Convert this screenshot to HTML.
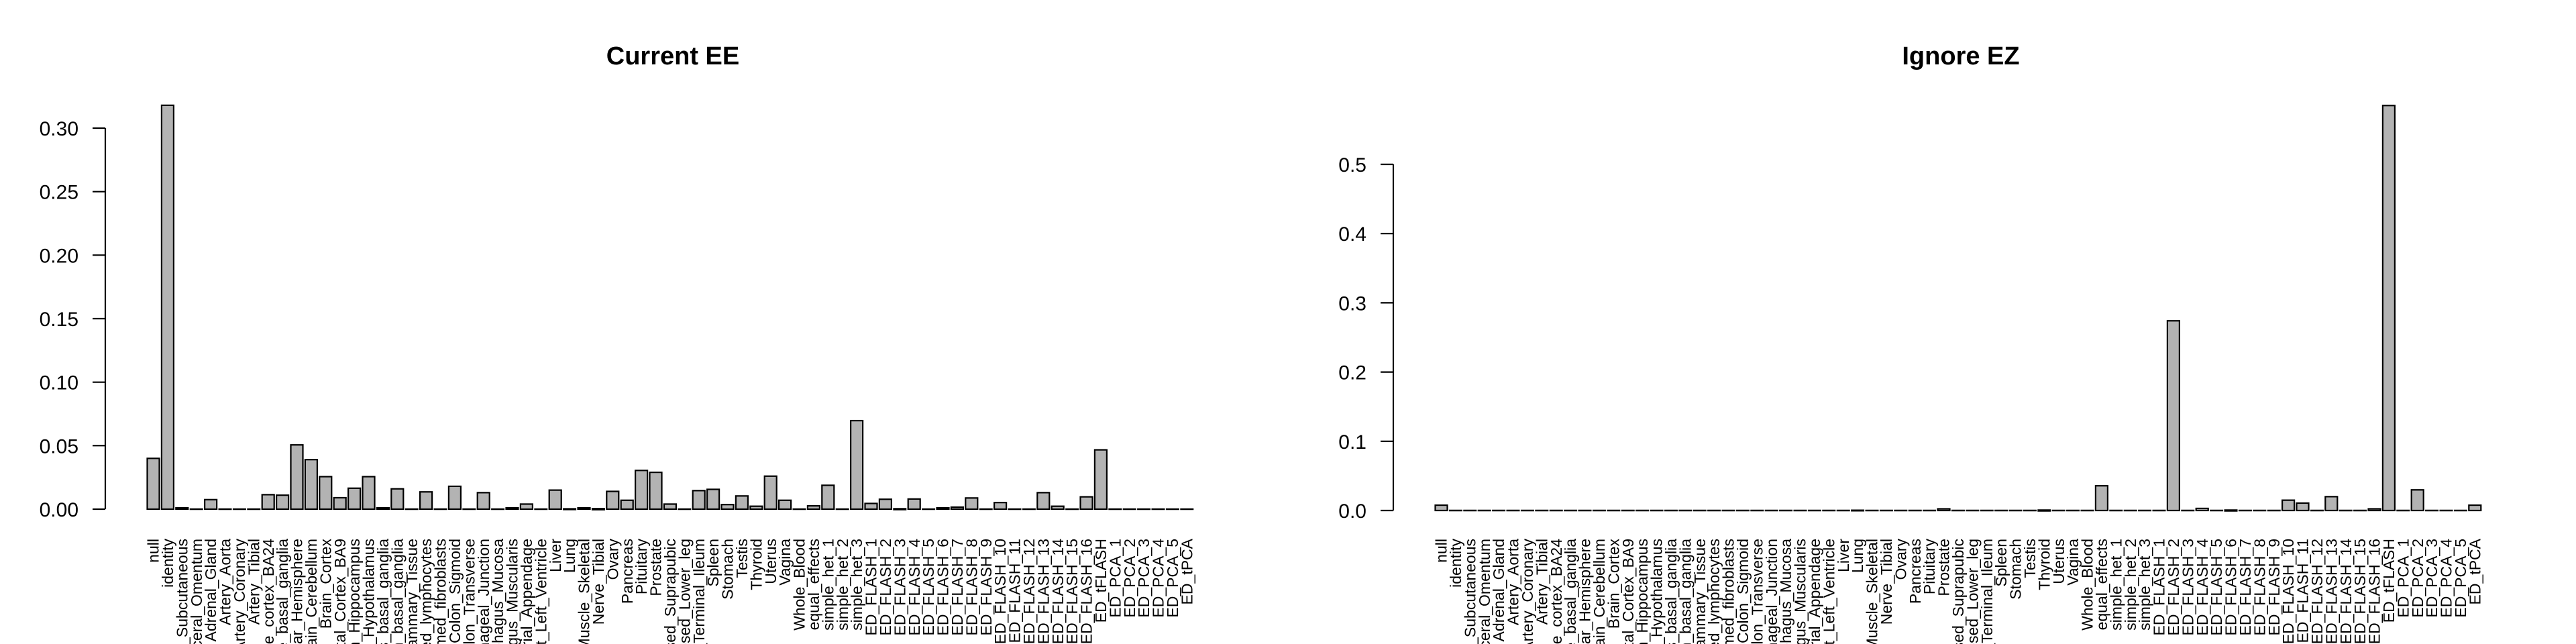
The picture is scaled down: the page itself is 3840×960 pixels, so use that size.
<!DOCTYPE html>
<html><head><meta charset="utf-8"><style>
html,body{margin:0;padding:0;background:#fff;width:3840px;height:960px;overflow:hidden}
svg{display:block}
svg text{font-family:"Liberation Sans",Arial,sans-serif;fill:#000}
.t{font-weight:bold;font-size:38px}
.yl{font-size:30px}
.xl{font-size:23px}
</style></head><body>
<svg id="s" width="3840" height="960" xmlns="http://www.w3.org/2000/svg" overflow="hidden">
<text class="t" x="1003" y="96" text-anchor="middle">Current EE</text>
<text class="t" x="2923" y="96" text-anchor="middle">Ignore EZ</text>
<g stroke="#000" stroke-width="2.2">
<line x1="157" y1="191" x2="157" y2="759"/>
<line x1="138" y1="191" x2="157" y2="191"/><line x1="138" y1="285.7" x2="157" y2="285.7"/><line x1="138" y1="380.3" x2="157" y2="380.3"/><line x1="138" y1="475" x2="157" y2="475"/><line x1="138" y1="569.7" x2="157" y2="569.7"/><line x1="138" y1="664.3" x2="157" y2="664.3"/><line x1="138" y1="759" x2="157" y2="759"/>
<line x1="2077" y1="245" x2="2077" y2="761"/>
<line x1="2058" y1="245" x2="2077" y2="245"/><line x1="2058" y1="348.2" x2="2077" y2="348.2"/><line x1="2058" y1="451.4" x2="2077" y2="451.4"/><line x1="2058" y1="554.6" x2="2077" y2="554.6"/><line x1="2058" y1="657.8" x2="2077" y2="657.8"/><line x1="2058" y1="761" x2="2077" y2="761"/>
</g>
<g class="yl" text-anchor="end">
<text x="117" y="202">0.30</text><text x="117" y="296.7">0.25</text><text x="117" y="391.3">0.20</text><text x="117" y="486">0.15</text><text x="117" y="580.7">0.10</text><text x="117" y="675.3">0.05</text><text x="117" y="770">0.00</text>
<text x="2037" y="256">0.5</text><text x="2037" y="359.2">0.4</text><text x="2037" y="462.4">0.3</text><text x="2037" y="565.6">0.2</text><text x="2037" y="668.8">0.1</text><text x="2037" y="772">0.0</text>
</g>
<g id="bars"></g>
<g class="xl" text-anchor="end" transform="translate(0,0)">
<text transform="translate(228.5,803) rotate(-90)" dy="0.35em">null</text>
<text transform="translate(249.9,803) rotate(-90)" dy="0.35em">identity</text>
<text transform="translate(271.3,803) rotate(-90)" dy="0.35em">Adipose_Subcutaneous</text>
<text transform="translate(292.7,803) rotate(-90)" dy="0.35em">Adipose_Visceral_Omentum</text>
<text transform="translate(314.1,803) rotate(-90)" dy="0.35em">Adrenal_Gland</text>
<text transform="translate(335.5,803) rotate(-90)" dy="0.35em">Artery_Aorta</text>
<text transform="translate(356.9,803) rotate(-90)" dy="0.35em">Artery_Coronary</text>
<text transform="translate(378.3,803) rotate(-90)" dy="0.35em">Artery_Tibial</text>
<text transform="translate(399.7,803) rotate(-90)" dy="0.35em">Brain_Anterior_cingulate_cortex_BA24</text>
<text transform="translate(421.1,803) rotate(-90)" dy="0.35em">Brain_Caudate_basal_ganglia</text>
<text transform="translate(442.5,803) rotate(-90)" dy="0.35em">Brain_Cerebellar_Hemisphere</text>
<text transform="translate(463.9,803) rotate(-90)" dy="0.35em">Brain_Cerebellum</text>
<text transform="translate(485.3,803) rotate(-90)" dy="0.35em">Brain_Cortex</text>
<text transform="translate(506.7,803) rotate(-90)" dy="0.35em">Brain_Frontal_Cortex_BA9</text>
<text transform="translate(528.1,803) rotate(-90)" dy="0.35em">Brain_Hippocampus</text>
<text transform="translate(549.5,803) rotate(-90)" dy="0.35em">Brain_Hypothalamus</text>
<text transform="translate(570.9,803) rotate(-90)" dy="0.35em">Brain_Nucleus_accumbens_basal_ganglia</text>
<text transform="translate(592.3,803) rotate(-90)" dy="0.35em">Brain_Putamen_basal_ganglia</text>
<text transform="translate(613.7,803) rotate(-90)" dy="0.35em">Breast_Mammary_Tissue</text>
<text transform="translate(635.1,803) rotate(-90)" dy="0.35em">Cells_EBV-transformed_lymphocytes</text>
<text transform="translate(656.5,803) rotate(-90)" dy="0.35em">Cells_Transformed_fibroblasts</text>
<text transform="translate(677.9,803) rotate(-90)" dy="0.35em">Colon_Sigmoid</text>
<text transform="translate(699.3,803) rotate(-90)" dy="0.35em">Colon_Transverse</text>
<text transform="translate(720.7,803) rotate(-90)" dy="0.35em">Esophagus_Gastroesophageal_Junction</text>
<text transform="translate(742.1,803) rotate(-90)" dy="0.35em">Esophagus_Mucosa</text>
<text transform="translate(763.5,803) rotate(-90)" dy="0.35em">Esophagus_Muscularis</text>
<text transform="translate(784.9,803) rotate(-90)" dy="0.35em">Heart_Atrial_Appendage</text>
<text transform="translate(806.3,803) rotate(-90)" dy="0.35em">Heart_Left_Ventricle</text>
<text transform="translate(827.7,803) rotate(-90)" dy="0.35em">Liver</text>
<text transform="translate(849.1,803) rotate(-90)" dy="0.35em">Lung</text>
<text transform="translate(870.5,803) rotate(-90)" dy="0.35em">Muscle_Skeletal</text>
<text transform="translate(891.9,803) rotate(-90)" dy="0.35em">Nerve_Tibial</text>
<text transform="translate(913.3,803) rotate(-90)" dy="0.35em">Ovary</text>
<text transform="translate(934.7,803) rotate(-90)" dy="0.35em">Pancreas</text>
<text transform="translate(956.1,803) rotate(-90)" dy="0.35em">Pituitary</text>
<text transform="translate(977.5,803) rotate(-90)" dy="0.35em">Prostate</text>
<text transform="translate(998.9,803) rotate(-90)" dy="0.35em">Skin_Not_Sun_Exposed_Suprapubic</text>
<text transform="translate(1020.3,803) rotate(-90)" dy="0.35em">Skin_Sun_Exposed_Lower_leg</text>
<text transform="translate(1041.7,803) rotate(-90)" dy="0.35em">Small_Intestine_Terminal_Ileum</text>
<text transform="translate(1063.1,803) rotate(-90)" dy="0.35em">Spleen</text>
<text transform="translate(1084.5,803) rotate(-90)" dy="0.35em">Stomach</text>
<text transform="translate(1105.9,803) rotate(-90)" dy="0.35em">Testis</text>
<text transform="translate(1127.3,803) rotate(-90)" dy="0.35em">Thyroid</text>
<text transform="translate(1148.7,803) rotate(-90)" dy="0.35em">Uterus</text>
<text transform="translate(1170.1,803) rotate(-90)" dy="0.35em">Vagina</text>
<text transform="translate(1191.5,803) rotate(-90)" dy="0.35em">Whole_Blood</text>
<text transform="translate(1212.9,803) rotate(-90)" dy="0.35em">equal_effects</text>
<text transform="translate(1234.3,803) rotate(-90)" dy="0.35em">simple_het_1</text>
<text transform="translate(1255.7,803) rotate(-90)" dy="0.35em">simple_het_2</text>
<text transform="translate(1277.1,803) rotate(-90)" dy="0.35em">simple_het_3</text>
<text transform="translate(1298.5,803) rotate(-90)" dy="0.35em">ED_FLASH_1</text>
<text transform="translate(1319.9,803) rotate(-90)" dy="0.35em">ED_FLASH_2</text>
<text transform="translate(1341.3,803) rotate(-90)" dy="0.35em">ED_FLASH_3</text>
<text transform="translate(1362.7,803) rotate(-90)" dy="0.35em">ED_FLASH_4</text>
<text transform="translate(1384.1,803) rotate(-90)" dy="0.35em">ED_FLASH_5</text>
<text transform="translate(1405.5,803) rotate(-90)" dy="0.35em">ED_FLASH_6</text>
<text transform="translate(1426.9,803) rotate(-90)" dy="0.35em">ED_FLASH_7</text>
<text transform="translate(1448.3,803) rotate(-90)" dy="0.35em">ED_FLASH_8</text>
<text transform="translate(1469.7,803) rotate(-90)" dy="0.35em">ED_FLASH_9</text>
<text transform="translate(1491.1,803) rotate(-90)" dy="0.35em">ED_FLASH_10</text>
<text transform="translate(1512.5,803) rotate(-90)" dy="0.35em">ED_FLASH_11</text>
<text transform="translate(1533.9,803) rotate(-90)" dy="0.35em">ED_FLASH_12</text>
<text transform="translate(1555.3,803) rotate(-90)" dy="0.35em">ED_FLASH_13</text>
<text transform="translate(1576.7,803) rotate(-90)" dy="0.35em">ED_FLASH_14</text>
<text transform="translate(1598.1,803) rotate(-90)" dy="0.35em">ED_FLASH_15</text>
<text transform="translate(1619.5,803) rotate(-90)" dy="0.35em">ED_FLASH_16</text>
<text transform="translate(1640.9,803) rotate(-90)" dy="0.35em">ED_tFLASH</text>
<text transform="translate(1662.3,803) rotate(-90)" dy="0.35em">ED_PCA_1</text>
<text transform="translate(1683.7,803) rotate(-90)" dy="0.35em">ED_PCA_2</text>
<text transform="translate(1705.1,803) rotate(-90)" dy="0.35em">ED_PCA_3</text>
<text transform="translate(1726.5,803) rotate(-90)" dy="0.35em">ED_PCA_4</text>
<text transform="translate(1747.9,803) rotate(-90)" dy="0.35em">ED_PCA_5</text>
<text transform="translate(1769.3,803) rotate(-90)" dy="0.35em">ED_tPCA</text>
</g>
<g class="xl" text-anchor="end" transform="translate(1920,0)">
<text transform="translate(228.5,803) rotate(-90)" dy="0.35em">null</text>
<text transform="translate(249.9,803) rotate(-90)" dy="0.35em">identity</text>
<text transform="translate(271.3,803) rotate(-90)" dy="0.35em">Adipose_Subcutaneous</text>
<text transform="translate(292.7,803) rotate(-90)" dy="0.35em">Adipose_Visceral_Omentum</text>
<text transform="translate(314.1,803) rotate(-90)" dy="0.35em">Adrenal_Gland</text>
<text transform="translate(335.5,803) rotate(-90)" dy="0.35em">Artery_Aorta</text>
<text transform="translate(356.9,803) rotate(-90)" dy="0.35em">Artery_Coronary</text>
<text transform="translate(378.3,803) rotate(-90)" dy="0.35em">Artery_Tibial</text>
<text transform="translate(399.7,803) rotate(-90)" dy="0.35em">Brain_Anterior_cingulate_cortex_BA24</text>
<text transform="translate(421.1,803) rotate(-90)" dy="0.35em">Brain_Caudate_basal_ganglia</text>
<text transform="translate(442.5,803) rotate(-90)" dy="0.35em">Brain_Cerebellar_Hemisphere</text>
<text transform="translate(463.9,803) rotate(-90)" dy="0.35em">Brain_Cerebellum</text>
<text transform="translate(485.3,803) rotate(-90)" dy="0.35em">Brain_Cortex</text>
<text transform="translate(506.7,803) rotate(-90)" dy="0.35em">Brain_Frontal_Cortex_BA9</text>
<text transform="translate(528.1,803) rotate(-90)" dy="0.35em">Brain_Hippocampus</text>
<text transform="translate(549.5,803) rotate(-90)" dy="0.35em">Brain_Hypothalamus</text>
<text transform="translate(570.9,803) rotate(-90)" dy="0.35em">Brain_Nucleus_accumbens_basal_ganglia</text>
<text transform="translate(592.3,803) rotate(-90)" dy="0.35em">Brain_Putamen_basal_ganglia</text>
<text transform="translate(613.7,803) rotate(-90)" dy="0.35em">Breast_Mammary_Tissue</text>
<text transform="translate(635.1,803) rotate(-90)" dy="0.35em">Cells_EBV-transformed_lymphocytes</text>
<text transform="translate(656.5,803) rotate(-90)" dy="0.35em">Cells_Transformed_fibroblasts</text>
<text transform="translate(677.9,803) rotate(-90)" dy="0.35em">Colon_Sigmoid</text>
<text transform="translate(699.3,803) rotate(-90)" dy="0.35em">Colon_Transverse</text>
<text transform="translate(720.7,803) rotate(-90)" dy="0.35em">Esophagus_Gastroesophageal_Junction</text>
<text transform="translate(742.1,803) rotate(-90)" dy="0.35em">Esophagus_Mucosa</text>
<text transform="translate(763.5,803) rotate(-90)" dy="0.35em">Esophagus_Muscularis</text>
<text transform="translate(784.9,803) rotate(-90)" dy="0.35em">Heart_Atrial_Appendage</text>
<text transform="translate(806.3,803) rotate(-90)" dy="0.35em">Heart_Left_Ventricle</text>
<text transform="translate(827.7,803) rotate(-90)" dy="0.35em">Liver</text>
<text transform="translate(849.1,803) rotate(-90)" dy="0.35em">Lung</text>
<text transform="translate(870.5,803) rotate(-90)" dy="0.35em">Muscle_Skeletal</text>
<text transform="translate(891.9,803) rotate(-90)" dy="0.35em">Nerve_Tibial</text>
<text transform="translate(913.3,803) rotate(-90)" dy="0.35em">Ovary</text>
<text transform="translate(934.7,803) rotate(-90)" dy="0.35em">Pancreas</text>
<text transform="translate(956.1,803) rotate(-90)" dy="0.35em">Pituitary</text>
<text transform="translate(977.5,803) rotate(-90)" dy="0.35em">Prostate</text>
<text transform="translate(998.9,803) rotate(-90)" dy="0.35em">Skin_Not_Sun_Exposed_Suprapubic</text>
<text transform="translate(1020.3,803) rotate(-90)" dy="0.35em">Skin_Sun_Exposed_Lower_leg</text>
<text transform="translate(1041.7,803) rotate(-90)" dy="0.35em">Small_Intestine_Terminal_Ileum</text>
<text transform="translate(1063.1,803) rotate(-90)" dy="0.35em">Spleen</text>
<text transform="translate(1084.5,803) rotate(-90)" dy="0.35em">Stomach</text>
<text transform="translate(1105.9,803) rotate(-90)" dy="0.35em">Testis</text>
<text transform="translate(1127.3,803) rotate(-90)" dy="0.35em">Thyroid</text>
<text transform="translate(1148.7,803) rotate(-90)" dy="0.35em">Uterus</text>
<text transform="translate(1170.1,803) rotate(-90)" dy="0.35em">Vagina</text>
<text transform="translate(1191.5,803) rotate(-90)" dy="0.35em">Whole_Blood</text>
<text transform="translate(1212.9,803) rotate(-90)" dy="0.35em">equal_effects</text>
<text transform="translate(1234.3,803) rotate(-90)" dy="0.35em">simple_het_1</text>
<text transform="translate(1255.7,803) rotate(-90)" dy="0.35em">simple_het_2</text>
<text transform="translate(1277.1,803) rotate(-90)" dy="0.35em">simple_het_3</text>
<text transform="translate(1298.5,803) rotate(-90)" dy="0.35em">ED_FLASH_1</text>
<text transform="translate(1319.9,803) rotate(-90)" dy="0.35em">ED_FLASH_2</text>
<text transform="translate(1341.3,803) rotate(-90)" dy="0.35em">ED_FLASH_3</text>
<text transform="translate(1362.7,803) rotate(-90)" dy="0.35em">ED_FLASH_4</text>
<text transform="translate(1384.1,803) rotate(-90)" dy="0.35em">ED_FLASH_5</text>
<text transform="translate(1405.5,803) rotate(-90)" dy="0.35em">ED_FLASH_6</text>
<text transform="translate(1426.9,803) rotate(-90)" dy="0.35em">ED_FLASH_7</text>
<text transform="translate(1448.3,803) rotate(-90)" dy="0.35em">ED_FLASH_8</text>
<text transform="translate(1469.7,803) rotate(-90)" dy="0.35em">ED_FLASH_9</text>
<text transform="translate(1491.1,803) rotate(-90)" dy="0.35em">ED_FLASH_10</text>
<text transform="translate(1512.5,803) rotate(-90)" dy="0.35em">ED_FLASH_11</text>
<text transform="translate(1533.9,803) rotate(-90)" dy="0.35em">ED_FLASH_12</text>
<text transform="translate(1555.3,803) rotate(-90)" dy="0.35em">ED_FLASH_13</text>
<text transform="translate(1576.7,803) rotate(-90)" dy="0.35em">ED_FLASH_14</text>
<text transform="translate(1598.1,803) rotate(-90)" dy="0.35em">ED_FLASH_15</text>
<text transform="translate(1619.5,803) rotate(-90)" dy="0.35em">ED_FLASH_16</text>
<text transform="translate(1640.9,803) rotate(-90)" dy="0.35em">ED_tFLASH</text>
<text transform="translate(1662.3,803) rotate(-90)" dy="0.35em">ED_PCA_1</text>
<text transform="translate(1683.7,803) rotate(-90)" dy="0.35em">ED_PCA_2</text>
<text transform="translate(1705.1,803) rotate(-90)" dy="0.35em">ED_PCA_3</text>
<text transform="translate(1726.5,803) rotate(-90)" dy="0.35em">ED_PCA_4</text>
<text transform="translate(1747.9,803) rotate(-90)" dy="0.35em">ED_PCA_5</text>
<text transform="translate(1769.3,803) rotate(-90)" dy="0.35em">ED_tPCA</text>
</g>
</svg>
<script>
(function(){
var L=[.040,.318,.001,0,.0075,0,0,0,.0114,.011,.0506,.039,.0256,.009,.0165,.0256,.001,.016,0,.0136,0,.018,0,.013,0,.001,.004,0,.015,.0005,.001,.0007,.014,.007,.0305,.029,.004,0,.0146,.0156,.0036,.0104,.0023,.026,.007,0,.0026,.0188,0,.0697,.0045,.0078,.0006,.008,0,.001,.0016,.0088,0,.0052,0,0,.013,.0023,0,.0097,.0467,0,0,0,0,0,0];
var R=new Array(73).fill(0);
R[0]=.0077;R[29]=.0005;R[35]=.0024;R[42]=.001;R[46]=.0357;R[51]=.274;R[53]=.003;R[55]=.001;R[59]=.0149;R[60]=.0107;R[62]=.020;R[65]=.0024;R[66]=.585;R[68]=.0298;R[72]=.0077;
var g=document.getElementById('bars'),h='';
function draw(vals,ox,base,sc){for(var i=0;i<73;i++){var c=ox+228.5+21.4*i,hh=vals[i]*sc,y=base-hh;
if(hh<1.5){h+='<line x1="'+(c-10)+'" y1="'+base+'" x2="'+(c+10)+'" y2="'+base+'" stroke="#000" stroke-width="'+(2.4+hh)+'"/>';}
else h+='<rect x="'+(c-9)+'" y="'+y+'" width="18" height="'+hh+'" fill="#b3b3b3" stroke="#000" stroke-width="2.2"/>';}}
draw(L,0,759,1893.3);draw(R,1920,761,1032);
g.innerHTML=h;
})();
</script>
</body></html>
